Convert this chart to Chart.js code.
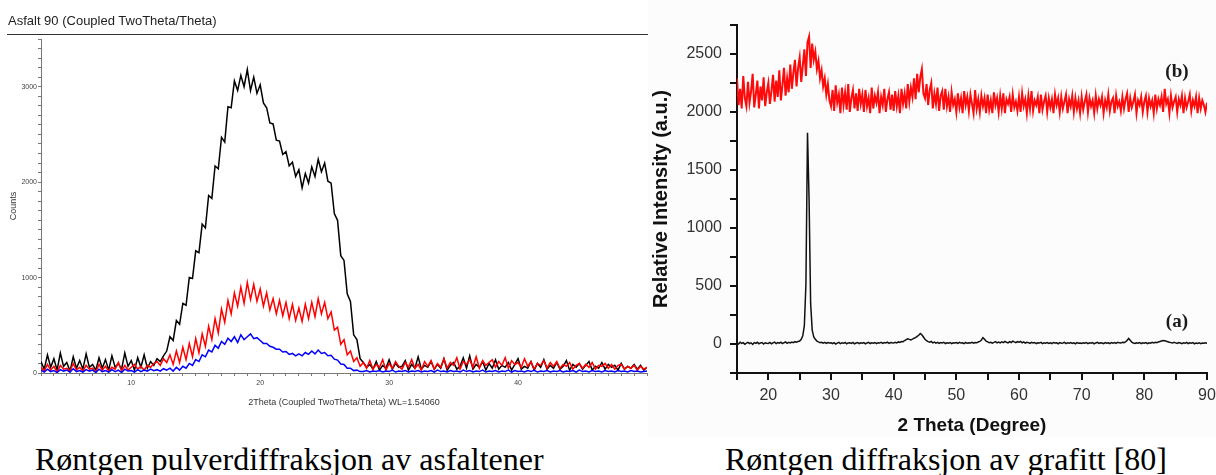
<!DOCTYPE html>
<html>
<head>
<meta charset="utf-8">
<script src="https://cdn.jsdelivr.net/npm/chart.js@4"></script>
<style>
  html, body { margin: 0; padding: 0; background: #fff; }
  body { width: 1216px; height: 475px; position: relative; overflow: hidden; font-family: 'Liberation Sans', Arial, sans-serif; }
  #leftTitle { position: absolute; left: 8px; top: 14px; font-size: 13px; line-height: 13px; color: #222; white-space: nowrap; }
  #leftRule { position: absolute; left: 7px; top: 34px; width: 641px; height: 0; border-top: 1px solid #333; }
  #asfaltChart { position: absolute; left: 0; top: 0; }
  #grafittChart { position: absolute; left: 648px; top: 0; background: #fcfcfc; }
  .caption { position: absolute; top: 443px; font-family: 'Liberation Serif', 'Times New Roman', serif; font-size: 32px; line-height: 32px; color: #000; white-space: nowrap; }
</style>
</head>
<body>
<canvas id="asfaltChart" width="648" height="412"></canvas>
<div id="leftTitle">Asfalt 90 (Coupled TwoTheta/Theta)</div>
<div id="leftRule"></div>
<canvas id="grafittChart" width="568" height="437"></canvas>
<div class="caption" style="left:35px">Røntgen pulverdiffraksjon av asfaltener</div>
<div class="caption" style="left:725px">Røntgen diffraksjon av grafitt [80]</div>

<script>
// ---- Left chart: asphaltene powder XRD, 2theta from 3 to 50 in 0.25 steps ----
const asfaltStart = 3;
const asfaltStep = 0.25;

// black pattern (highest)
const asfaltBlack = [
  120, 40, 190, 60, 150, 30, 210, 70, 110, 20, 170, 50, 130, 40, 200, 60, 90, 30, 160, 50,      // 3 - 7.75
  140, 30, 180, 60, 100, 40, 210, 70, 130, 30, 160, 60, 190, 50, 120, 80, 150, 120, 180, 230,   // 8 - 12.75
  380, 340, 550, 510, 730, 710, 1000, 990, 1280, 1260, 1560, 1520, 1860, 1830, 2170, 2140, 2470, 2420, 2790, 2780, // 13 - 17.75
  3060, 2960, 3120, 3000, 3180, 2960, 3100, 2930, 3020, 2830, 2780, 2620, 2610, 2440, 2430, 2290, 2320, 2170, 2210, 2060, // 18 - 22.75
  2130, 1940, 2090, 1990, 2160, 2060, 2240, 2110, 2200, 2010, 1990, 1670, 1600, 1230, 1180, 830, 750, 400, 350, 150, // 23 - 27.75
  110, 60, 90, 40, 120, 30, 80, 50, 140, 40, 100, 60, 70, 130, 30, 90, 50, 170, 40, 80,         // 28 - 32.75
  60, 120, 40, 90, 50, 150, 30, 80, 110, 40, 70, 160, 50, 180, 40, 90, 60, 120, 30, 100,        // 33 - 37.75
  50, 140, 40, 80, 60, 110, 30, 90, 150, 40, 70, 50, 120, 30, 100, 60, 140, 40, 80, 50,         // 38 - 42.75
  110, 40, 70, 130, 30, 90, 60, 100, 40, 80, 120, 30, 70, 50, 110, 40, 90, 60, 80, 30,          // 43 - 47.75
  100, 40, 70, 50, 90, 40, 80, 30, 60                                                             // 48 - 50
];

// red pattern
const asfaltRed = [
  60, 20, 90, 30, 70, 10, 80, 40, 50, 20, 100, 30, 60, 20, 80, 40, 50, 10, 90, 30,
  70, 20, 60, 40, 110, 20, 80, 30, 60, 90, 40, 70, 30, 80, 60, 100, 120, 80, 150, 110,
  190, 90, 230, 110, 270, 140, 310, 170, 360, 210, 410, 280, 490, 350, 570, 420, 670, 530, 760, 620,
  840, 700, 900, 730, 950, 770, 930, 750, 880, 700, 840, 660, 780, 620, 760, 600, 740, 570, 720, 550,
  680, 540, 720, 570, 740, 590, 780, 620, 740, 570, 640, 450, 480, 300, 350, 190, 230, 120, 160, 70,
  110, 50, 130, 40, 90, 60, 140, 30, 100, 50, 120, 70, 40, 110, 60, 140, 50, 90, 30, 120,
  70, 130, 40, 100, 60, 150, 50, 110, 80, 160, 40, 120, 90, 140, 60, 170, 50, 130, 80, 110,
  140, 60, 120, 80, 160, 50, 130, 90, 110, 60, 150, 70, 120, 40, 100, 80, 130, 50, 110, 70,
  120, 50, 90, 70, 110, 40, 80, 100, 50, 90, 60, 110, 40, 80, 70, 100, 50, 90, 40, 80,
  90, 40, 70, 50, 80, 30, 70, 40, 60
];

// blue pattern (lowest)
const asfaltBlue = [
  30, 10, 40, 15, 25, 5, 35, 20, 30, 10, 45, 15, 25, 10, 35, 20, 30, 5, 40, 15,
  25, 10, 35, 15, 30, 5, 40, 20, 25, 10, 35, 15, 30, 20, 40, 25, 35, 20, 45, 30,
  50, 20, 60, 30, 70, 50, 100, 80, 140, 120, 190, 170, 240, 220, 290, 260, 330, 300, 365, 330,
  380, 320, 400, 350, 380, 410, 360, 370, 340, 310, 310, 280, 270, 250, 250, 220, 225, 195, 205, 180,
  200, 180, 215, 195, 230, 200, 240, 205, 215, 180, 185, 145, 135, 95, 90, 50, 50, 25, 30, 15,
  15, 25, 10, 20, 15, 25, 10, 20, 15, 30, 10, 20, 15, 25, 10, 20, 15, 25, 10, 20,
  15, 25, 10, 30, 15, 20, 10, 25, 15, 20, 10, 30, 15, 25, 10, 20, 15, 30, 10, 20,
  15, 25, 10, 20, 15, 30, 10, 25, 15, 20, 10, 25, 15, 30, 10, 20, 15, 25, 10, 20,
  15, 25, 10, 20, 15, 25, 10, 30, 15, 20, 10, 25, 15, 20, 10, 25, 15, 20, 10, 25,
  15, 20, 10, 25, 15, 20, 10, 15, 20
];

const asfaltXLabels = [10, 20, 30, 40];
const asfaltYLabels = [0, 1000, 2000, 3000];

// ---- Right chart: graphite XRD, 2theta from 15 to 90 in 0.25 steps ----
const grafittStart = 15;
const grafittStep = 0.25;

// (b) red pattern
const grafittB = [
  2290, 2060, 2200, 2030, 2310, 2120, 2050, 2260, 2080, 2180, 2330, 2040, 2150, 2270, 2030, 2220, 2100, 2300, 2050, 2170, // 15
  2250, 2070, 2180, 2320, 2090, 2270, 2130, 2360, 2100, 2230, 2380, 2140, 2290, 2170, 2410, 2200, 2340, 2450, 2220, 2380, // 20
  2470, 2260, 2400, 2540, 2310, 2600, 2650, 2380, 2590, 2450, 2520, 2370, 2440, 2290, 2360, 2220, 2290, 2150, 2240, 2100, // 25
  2050, 2190, 2010, 2230, 2080, 2150, 1990, 2210, 2060, 2170, 2020, 2240, 2000, 2120, 2190, 2030, 2160, 2010, 2200, 2070, // 30
  2150, 2000, 2190, 2050, 2120, 1990, 2210, 2030, 2140, 2080, 2170, 1990, 2130, 2060, 2200, 2000, 2110, 2170, 2020, 2150, // 35
  2010, 2180, 2050, 2140, 1990, 2200, 2070, 2160, 2030, 2240, 2090, 2210, 2130, 2290, 2110, 2330, 2170, 2300, 2370, 2160, // 40
  2120, 2240, 2060, 2190, 2250, 2030, 2160, 2070, 2210, 2010, 2140, 2180, 2020, 2200, 2050, 2130, 2000, 2170, 2060, 2110, // 45
  2000, 2160, 2040, 2120, 1990, 2180, 2060, 2130, 2010, 2150, 2070, 1990, 2190, 2030, 2110, 2000, 2140, 2050, 2120, 1990, // 50
  2150, 2020, 2100, 1990, 2170, 2060, 2120, 2000, 2140, 2030, 2160, 1990, 2110, 2070, 2130, 2000, 2150, 2040, 2090, 2010, // 55
  2130, 2000, 2160, 2050, 2110, 1990, 2140, 2030, 2180, 2010, 2100, 2060, 2130, 1990, 2150, 2020, 2090, 2140, 2000, 2120, // 60
  2040, 2110, 1990, 2150, 2060, 2120, 2000, 2130, 2030, 2090, 2150, 1990, 2110, 2050, 2140, 2000, 2120, 2030, 2100, 1990, // 65
  2130, 2020, 2090, 2150, 2000, 2120, 2050, 2100, 1990, 2140, 2030, 2110, 2060, 2130, 1990, 2100, 2040, 2150, 2010, 2090, // 70
  2120, 1990, 2140, 2050, 2090, 2010, 2130, 2030, 2110, 2160, 2000, 2120, 2040, 2090, 2150, 1990, 2100, 2060, 2130, 2000, // 75
  2090, 2140, 2000, 2120, 2050, 2100, 1990, 2150, 2030, 2110, 2060, 2130, 2000, 2200, 2070, 2110, 1990, 2140, 2040, 2090, // 80
  2130, 2000, 2110, 2060, 2140, 1990, 2120, 2040, 2090, 2150, 2010, 2100, 2050, 2130, 1990, 2120, 2030, 2100, 2060, 2000, // 85
  2080                                                                                                                        // 90
];

// (a) black pattern
const grafittA = [
  10, 0, 15, 5, 12, -2, 8, 14, 3, 10, -4, 12, 6, 15, 2, 9, 13, 0, 11, 7,
  5, 14, 2, 10, 16, 4, 12, 8, 15, 3, 11, 18, 6, 14, 9, 17, 12, 20, 15, 22,
  25, 40, 70, 160, 520, 1820, 1250, 350, 120, 60, 40, 25, 18, 12, 15, 8, 14, 6, 12, 9,
  10, 4, 12, 0, 8, 14, 3, 10, 6, 13, 2, 9, 11, 5, 14, 1, 8, 12, 4, 10,
  6, 12, 2, 9, 14, 4, 10, 7, 13, 3, 11, 8, 15, 5, 12, 9, 16, 6, 13, 10,
  8, 15, 10, 18, 14, 22, 20, 30, 38, 45, 40, 35, 42, 50, 55, 65, 75, 90, 80, 60,
  40, 28, 20, 15, 22, 10, 16, 8, 14, 5, 12, 9, 15, 4, 11, 7, 13, 3, 10, 8,
  12, 5, 14, 8, 10, 3, 13, 6, 11, 9, 15, 7, 12, 10, 18, 22, 35, 55, 40, 25,
  18, 12, 15, 8, 14, 20, 10, 16, 9, 18, 12, 22, 15, 10, 20, 13, 25, 18, 12, 20,
  15, 22, 10, 18, 8, 14, 12, 6, 15, 9, 13, 4, 11, 8, 14, 3, 10, 7, 12, 5,
  11, 4, 13, 8, 10, 2, 12, 6, 9, 14, 3, 11, 7, 13, 5, 10, 2, 12, 6, 9,
  4, 11, 7, 13, 3, 10, 6, 12, 2, 9, 14, 5, 11, 8, 3, 12, 6, 10, 4, 13,
  7, 12, 5, 15, 10, 8, 14, 12, 18, 30, 48, 32, 15, 9, 4, 11, 7, 13, 3, 10,
  6, 12, 4, 10, 7, 14, 9, 15, 12, 18, 22, 26, 30, 28, 24, 20, 15, 12, 8, 14,
  10, 5, 12, 8, 3, 11, 6, 13, 4, 10, 7, 12, 2, 9, 5, 11, 3, 8, 6, 10,
  5
];

const grafittXLabels = [20, 30, 40, 50, 60, 70, 80, 90];
const grafittYLabels = [0, 500, 1000, 1500, 2000, 2500];

// where the (a) / (b) tags sit, in data units
const grafittTags = [
  { text: '(b)', theta: 85.2, level: 2345 },
  { text: '(a)', theta: 85.2, level: 190 }
];

Chart.defaults.font.family = "'Liberation Sans', Arial, sans-serif";

function toPoints(start, step, values) {
  return values.map((v, i) => ({ x: start + i * step, y: v }));
}

function tickRange(from, to, step) {
  const out = [];
  for (let v = from; v <= to + 1e-9; v += step) out.push({ value: Math.round(v * 100) / 100 });
  return out;
}

// left chart
new Chart(document.getElementById('asfaltChart'), {
  type: 'line',
  data: {
    datasets: [
      { label: 'svart', data: toPoints(asfaltStart, asfaltStep, asfaltBlack), borderColor: '#000000', borderWidth: 1.5, order: 3 },
      { label: 'rød', data: toPoints(asfaltStart, asfaltStep, asfaltRed), borderColor: '#ff0000', borderWidth: 1.5, order: 2 },
      { label: 'blå', data: toPoints(asfaltStart, asfaltStep, asfaltBlue), borderColor: '#0000ff', borderWidth: 1.5, order: 1 }
    ]
  },
  options: {
    responsive: false,
    animation: false,
    elements: { point: { radius: 0 }, line: { tension: 0 } },
    plugins: { legend: { display: false }, tooltip: { enabled: false } },
    layout: { padding: { top: 39, right: 1, bottom: 0, left: 0 } },
    scales: {
      x: {
        type: 'linear', min: 3, max: 50,
        afterBuildTicks: s => { s.ticks = tickRange(3, 50, 1); },
        afterFit: s => { s.height = 39; s.paddingLeft = 0; s.paddingRight = 0; },
        ticks: {
          autoSkip: false, maxRotation: 0, padding: 3, color: '#444', font: { size: 7 },
          callback: v => asfaltXLabels.includes(v) ? String(v) : ''
        },
        grid: { drawOnChartArea: false, tickLength: 3, color: '#777' },
        border: { color: '#777', width: 1 },
        title: { display: true, text: '2Theta (Coupled TwoTheta/Theta) WL=1.54060', color: '#333', font: { size: 9 }, padding: { top: 0, bottom: 4 } }
      },
      y: {
        type: 'linear', min: 0, max: 3500,
        afterBuildTicks: s => { s.ticks = tickRange(0, 3500, 100); },
        afterFit: s => { s.width = 41; s.paddingTop = 0; s.paddingBottom = 0; },
        ticks: {
          autoSkip: false, padding: 1, color: '#444', font: { size: 7 },
          callback: v => asfaltYLabels.includes(v) ? String(v) : ''
        },
        grid: { drawOnChartArea: false, tickLength: 3, color: '#777' },
        border: { color: '#777', width: 1 },
        title: { display: true, text: 'Counts', color: '#333', font: { size: 9 }, padding: { top: 8, bottom: 0 } }
      }
    }
  }
});

// plugin writing the (a) and (b) tags next to the curves
const tagPlugin = {
  id: 'tagPlugin',
  afterDatasetsDraw(chart) {
    const { ctx, scales: { x, y } } = chart;
    ctx.save();
    ctx.font = "bold 19px 'Liberation Serif', 'Times New Roman', serif";
    ctx.fillStyle = '#1a1a1a';
    ctx.textAlign = 'center';
    ctx.textBaseline = 'middle';
    grafittTags.forEach(t => ctx.fillText(t.text, x.getPixelForValue(t.theta), y.getPixelForValue(t.level)));
    ctx.restore();
  }
};

// right chart
new Chart(document.getElementById('grafittChart'), {
  type: 'line',
  data: {
    datasets: [
      { label: '(a)', data: toPoints(grafittStart, grafittStep, grafittA), borderColor: '#111111', borderWidth: 1.5, order: 2 },
      { label: '(b)', data: toPoints(grafittStart, grafittStep, grafittB), borderColor: '#ff0a0a', borderWidth: 2, order: 1 }
    ]
  },
  options: {
    responsive: false,
    animation: false,
    elements: { point: { radius: 0 }, line: { tension: 0 } },
    plugins: { legend: { display: false }, tooltip: { enabled: false } },
    layout: { padding: { top: 25, right: 9, bottom: 0, left: 0 } },
    scales: {
      x: {
        type: 'linear', min: 15, max: 90,
        afterBuildTicks: s => { s.ticks = tickRange(15, 90, 5); },
        afterFit: s => { s.height = 64; s.paddingLeft = 0; s.paddingRight = 0; },
        ticks: {
          autoSkip: false, maxRotation: 0, padding: 6, color: '#333', font: { size: 16 },
          callback: v => grafittXLabels.includes(v) ? String(v) : ''
        },
        grid: { drawOnChartArea: false, tickLength: 7, color: '#111', lineWidth: 2 },
        border: { color: '#111', width: 2 },
        title: { display: true, text: '2 Theta (Degree)', color: '#111', font: { size: 19, weight: 'bold' }, padding: { top: 0, bottom: 0 } }
      },
      y: {
        type: 'linear', min: -250, max: 2750,
        afterBuildTicks: s => { s.ticks = tickRange(-250, 2750, 250); },
        afterFit: s => { s.width = 89; s.paddingTop = 0; s.paddingBottom = 0; },
        ticks: {
          autoSkip: false, padding: 8, color: '#333', font: { size: 16 },
          callback: v => grafittYLabels.includes(v) ? String(v) : ''
        },
        grid: { drawOnChartArea: false, tickLength: 7, color: '#111', lineWidth: 2 },
        border: { color: '#111', width: 2 },
        title: { display: true, text: 'Relative Intensity (a.u.)', color: '#111', font: { size: 20, weight: 'bold' }, padding: { top: 1, bottom: 0 } }
      }
    }
  },
  plugins: [tagPlugin]
});
</script>
</body>
</html>
